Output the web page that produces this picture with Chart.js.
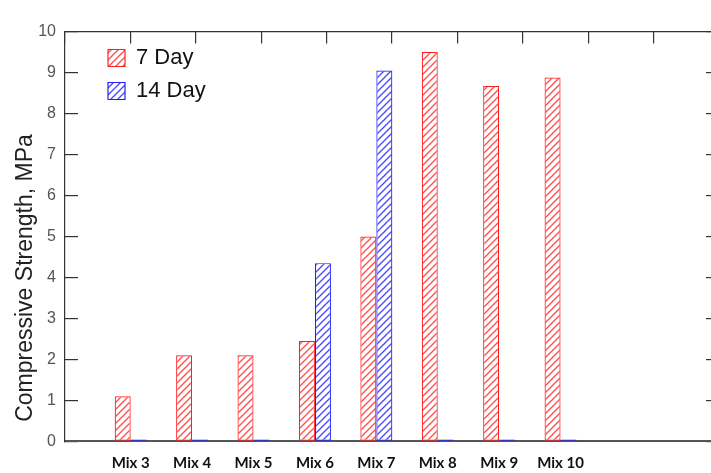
<!DOCTYPE html>
<html>
<head>
<meta charset="utf-8">
<script src="https://cdn.jsdelivr.net/npm/chart.js@4/dist/chart.umd.min.js"></script>
<style>
  html, body { margin: 0; padding: 0; background: #fff; overflow: hidden; }
  #wrap { width: 730px; height: 473px; }
</style>
</head>
<body>
<div id="wrap"><canvas id="c" width="730" height="473"></canvas></div>
<script>
// ---- data ----
const categories = ['Mix 3', 'Mix 4', 'Mix 5', 'Mix 6', 'Mix 7', 'Mix 8', 'Mix 9', 'Mix 10'];
const day7 = [1.1, 2.1, 2.1, 2.45, 5.0, 9.5, 8.67, 8.88];
const day14 = [0, 0, 0, 4.35, 9.05, 0, 0, 0];
const seriesLabels = ['7 Day', '14 Day'];
const yTicks = [0, 1, 2, 3, 4, 5, 6, 7, 8, 9, 10];
const yTitle = 'Compressive Strength, MPa';

function hatch(lineColor) {
  const s = 7;
  const cv = document.createElement('canvas');
  cv.width = s; cv.height = s;
  const g = cv.getContext('2d');
  g.fillStyle = '#ffffff';
  g.fillRect(0, 0, s, s);
  g.strokeStyle = lineColor;
  g.lineWidth = 1.3;
  g.beginPath();
  g.moveTo(-1, s + 1); g.lineTo(s + 1, -1);
  g.moveTo(-1, 1); g.lineTo(1, -1);
  g.moveTo(s - 1, s + 1); g.lineTo(s + 1, s - 1);
  g.stroke();
  return g.createPattern(cv, 'repeat');
}

const redHatch = hatch('#ff4a4a');
const blueHatch = hatch('#4646ff');

const titlePlugin = {
  id: 'yTitlePlugin',
  afterLayout(chart) {
    if (chart.legend) { chart.legend.left = 97; chart.legend.top = 36; }
  },
  afterDraw(chart) {
    const ctx = chart.ctx;
    ctx.save();
    ctx.translate(32, 278);
    ctx.rotate(-Math.PI / 2);
    ctx.font = '23px "Liberation Sans", Arial, sans-serif';
    ctx.fillStyle = '#222';
    ctx.textAlign = 'center';
    ctx.textBaseline = 'alphabetic';
    ctx.fillText(yTitle, 0, 0);
    ctx.restore();
  }
};

new Chart(document.getElementById('c'), {
  type: 'bar',
  data: {
    datasets: [
      {
        label: seriesLabels[0],
        data: day7.map((v, i) => ({ x: i, y: v })),
        backgroundColor: redHatch,
        borderColor: '#ff2020',
        borderWidth: 1.2,
        borderSkipped: false
      },
      {
        label: seriesLabels[1],
        data: day14.map((v, i) => ({ x: i, y: v })),
        backgroundColor: blueHatch,
        borderColor: '#2020ff',
        borderWidth: 1.2,
        borderSkipped: false,
        minBarLength: 2
      }
    ]
  },
  options: {
    responsive: false,
    devicePixelRatio: 1,
    animation: false,
    categoryPercentage: 0.521,
    barPercentage: 1.0,
    layout: { padding: 0 },
    plugins: {
      tooltip: { enabled: false },
      legend: {
        position: 'chartArea',
        align: 'start',
        labels: {
          boxWidth: 17,
          boxHeight: 17,
          padding: 11,
          color: '#111',
          font: { family: '"Liberation Sans", Arial, sans-serif', size: 22 }
        }
      }
    },
    scales: {
      x: {
        type: 'linear',
        position: 'bottom',
        offset: false,
        bounds: 'data',
        min: -1.07,
        max: 9.58,
        afterBuildTicks: s => { s.ticks = categories.map((_, i) => ({ value: i })); },
        afterFit: s => { s.height = 28; },
        grid: { display: false, offset: false },
        border: { display: true, color: '#555', width: 2 },
        ticks: {
          autoSkip: false,
          maxRotation: 0,
          padding: 5,
          color: '#111',
          font: { family: 'Lato, "Open Sans", sans-serif', size: 15, weight: 'bold' },
          callback: v => categories[v] ?? ''
        }
      },
      xTop: {
        type: 'linear',
        position: 'top',
        min: 0,
        max: 9,
        afterFit: s => { s.height = 12; },
        grid: { drawOnChartArea: false, drawTicks: true, tickLength: -12, color: '#333', lineWidth: 1.2 },
        border: { display: true, color: '#333', width: 1.2 },
        ticks: { display: false, stepSize: 1 }
      },
      y: {
        type: 'linear',
        position: 'left',
        min: 0,
        max: 10,
        afterBuildTicks: s => { s.ticks = yTicks.map(v => ({ value: v })); },
        afterFit: s => { s.width = 65; },
        grid: { drawOnChartArea: false, drawTicks: true, tickLength: -13, color: '#333', lineWidth: 1.2 },
        border: { display: true, color: '#333', width: 1.2 },
        ticks: {
          padding: 22,
          color: '#555',
          font: { family: '"Liberation Sans", Arial, sans-serif', size: 16 }
        }
      },
      yRight: {
        type: 'linear',
        position: 'right',
        min: 0,
        max: 10,
        afterBuildTicks: s => { s.ticks = yTicks.map(v => ({ value: v })); },
        afterFit: s => { s.width = 11; },
        grid: { drawOnChartArea: false, drawTicks: true, tickLength: -13, color: '#333', lineWidth: 1.2 },
        border: { display: true, color: '#333', width: 1.2 },
        ticks: { display: false }
      }
    }
  },
  plugins: [titlePlugin]
});
</script>
</body>
</html>
